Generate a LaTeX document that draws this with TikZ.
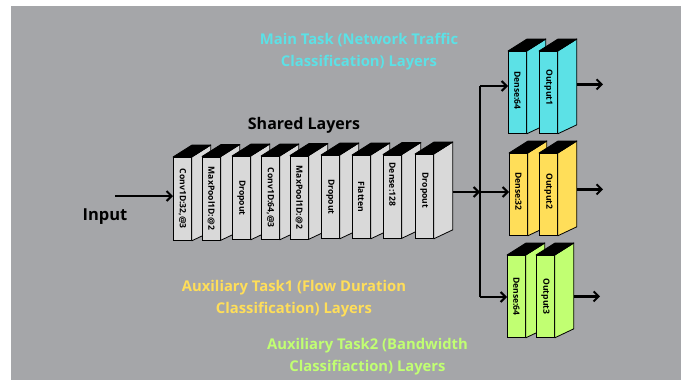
\documentclass[tikz,border=0pt]{standalone}
\usepackage{fontspec}
\setmainfont{Open Sans}
\usetikzlibrary{arrows.meta,calc}
\definecolor{bggray}{HTML}{A5A6A9}
\definecolor{facegray}{HTML}{D9D9D9}
\definecolor{tcyan}{HTML}{5CE1E6}
\definecolor{tyellow}{HTML}{FFDE59}
\definecolor{tgreen}{HTML}{C1FF72}
\tikzset{
  blockfront/.style={draw=black, line width=0.8pt, minimum width=18pt, inner sep=0pt,
    anchor=north west, font=\fontsize{8.6}{9}\selectfont\bfseries},
  facepoly/.style={draw=black, line width=0.8pt, line join=round},
  arr/.style={line width=2.2pt, -{Straight Barb[length=5pt,width=10pt,line width=2pt]}},
  plainline/.style={line width=2.2pt},
  title/.style={font=\fontsize{16}{18}\selectfont\bfseries, text=black},
  tasklabel/.style={font=\fontsize{14.8}{22}\selectfont\bfseries, align=center}
}
% #1 name, #2 x, #3 y top, #4 colour, #5 label, #6 height, #7 label shift (up)
\newcommand\layerblk[7]{%
  \node[blockfront, fill=#4, minimum height=#6pt] (#1) at (#2,#3)
    {\rotatebox{-90}{\hspace*{-#7pt}#5\hspace*{#7pt}}};
  \filldraw[facepoly, fill=#4] (#1.north east) -- ($(#1.north east)+(19,-12)$)
    -- ($(#1.south east)+(19,-9)$) -- (#1.south east) -- cycle;
  \filldraw[facepoly, fill=black] (#1.north west) -- ($(#1.north west)+(19,-12)$)
    -- ($(#1.north east)+(19,-12)$) -- (#1.north east) -- cycle;
}
\begin{document}
\begin{tikzpicture}[x=1pt,y=-1pt]
\useasboundingbox (0,0) rectangle (687,380);
\fill[white] (0,0) rectangle (687,380);
\fill[bggray] (11,6) rectangle (681,380);

% shared layers
\layerblk{b1}{173}{157}{facegray}{Conv1D:32,@3}{83}{0}
\layerblk{b2}{202}{156.5}{facegray}{MaxPool1D:@2}{83}{0}
\layerblk{b3}{232}{156}{facegray}{Dropout}{83}{0}
\layerblk{b4}{261}{156}{facegray}{Conv1D:64,@3}{83}{0}
\layerblk{b5}{290}{155.5}{facegray}{MaxPool1D:@2}{83}{0}
\layerblk{b6}{321}{155}{facegray}{Dropout}{83}{0}
\layerblk{b7}{352}{155}{facegray}{Flatten}{83}{0}
\layerblk{b8}{383}{154.5}{facegray}{Dense:128}{83}{12}
\layerblk{b9}{415}{154}{facegray}{Dropout}{84}{6}

% task layers
\layerblk{c1}{508}{51}{tcyan}{Dense:64}{82}{2}
\layerblk{c2}{539}{51}{tcyan}{Output1}{82}{5}
\layerblk{y1}{509}{153}{tyellow}{Dense:32}{82}{3}
\layerblk{y2}{539}{153}{tyellow}{Output2}{82}{3}
\layerblk{g1}{507}{255}{tgreen}{Dense:64}{82}{0}
\layerblk{g2}{536}{255}{tgreen}{Output3}{82}{0}

% texts
\node[title] (shared) at (304,125) {Shared Layers};
\node[title, font=\fontsize{16.5}{18}\selectfont\bfseries] (inputlbl) at (105,217) {Input};
\node[tasklabel, text=tcyan] (mainlbl) at (359,51.5) {Main Task (Network Traffic\\Classification) Layers};
\node[tasklabel, text=tyellow] (aux1lbl) at (294,298.5) {Auxiliary Task1 (Flow Duration\\Classification) Layers};
\node[tasklabel, text=tgreen] (aux2lbl) at (367.5,356.5) {Auxiliary Task2 (Bandwidth\\Classifiaction) Layers};

% connectors
\coordinate (inp) at (115,196);
\draw[arr] (inp) -- (inp -| b1.west);
\coordinate (shout) at ($(b9.east)+(19,-4)$);
\coordinate (j2) at (480,192);
\coordinate (jt) at (480,86);
\coordinate (jb) at (480,297);
\draw[arr] (shout |- j2) -- (j2);
\draw[plainline] (jt) -- (jb);
\draw[arr] (jt) -- (jt -| c1.west);
\draw[arr] (j2) -- (j2 -| y1.west);
\draw[arr] (jb) -- (jb -| g1.west);

\coordinate (o1s) at ($(c2.east)+(19,-8)$);
\coordinate (o1e) at (603,84);
\coordinate (o2s) at ($(y2.east)+(19,-5)$);
\coordinate (o2e) at (603,189);
\coordinate (o3s) at ($(g2.east)+(19,0)$);
\coordinate (o3e) at (600,296);
\draw[arr] (o1s) -- (o1s -| o1e);
\draw[arr] (o2s) -- (o2s -| o2e);
\draw[arr] (o3s) -- (o3s -| o3e);
\end{tikzpicture}
\end{document}
